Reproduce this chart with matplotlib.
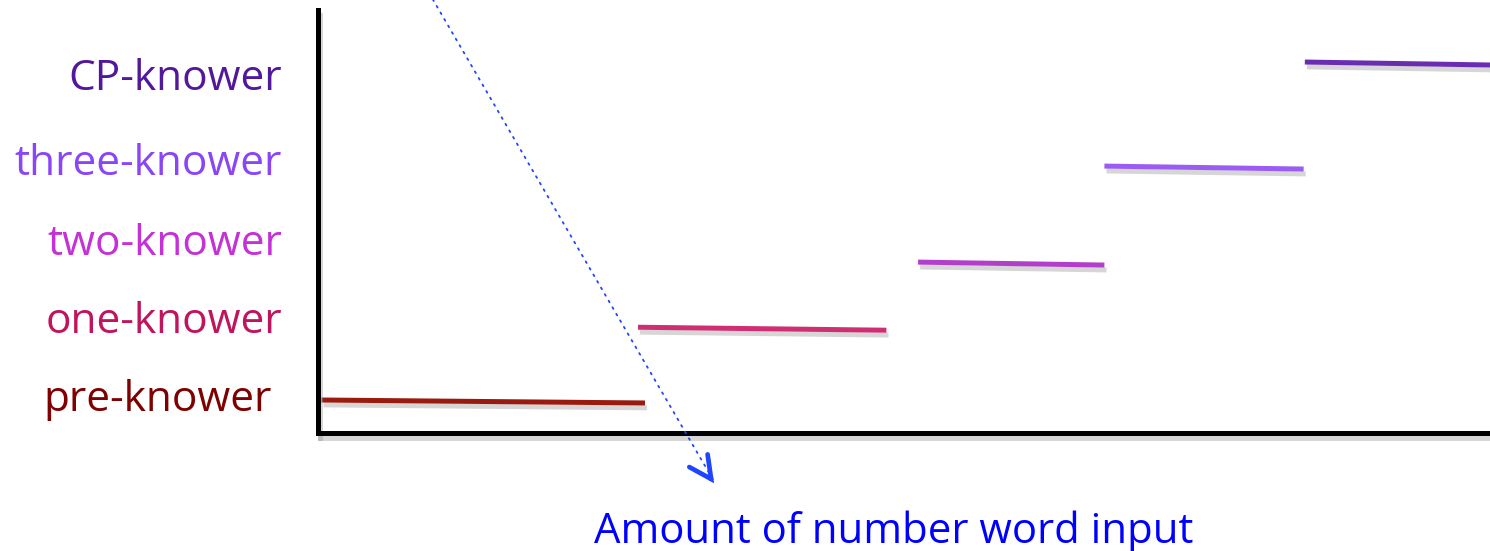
import matplotlib
matplotlib.use("Agg")
import matplotlib.pyplot as plt
import matplotlib.patheffects as pe

# Knower-level stages along the number-word-input axis
stages = ["pre-knower", "one-knower", "two-knower", "three-knower", "CP-knower"]
x_start = [0.3, 27.3, 51.2, 67.1, 84.2]
x_end = [27.9, 48.5, 67.1, 84.1, 100.0]
y_start = [0.78, 2.50, 4.04, 6.31, 8.77]
y_end = [0.71, 2.43, 3.97, 6.24, 8.70]
label_y = [0.52, 2.36, 4.20, 6.10, 8.11]
line_colors = ["#991a0e", "#cf2f72", "#b13fca", "#9a5cf2", "#6a2db2"]
text_colors = ["#7f0000", "#c0155c", "#c432d6", "#8a45f5", "#52189c"]
x_label = "Amount of number word input"

plt.rcParams["font.family"] = ["Open Sans", "DejaVu Sans"]

W, H = 1490, 551
fig = plt.figure(figsize=(W / 100, H / 100), dpi=100)
ax = fig.add_axes([318 / W, (H - 433) / H, 1172 / W, 423 / H])
ax.set_xlim(0, 100)
ax.set_ylim(0, 10)
ax.set_xticks([])
ax.set_yticks([])

shadow = [pe.SimpleLineShadow(offset=(1.5, -3.5), shadow_color="0.6", alpha=0.4),
          pe.Normal()]

for sp in ["top", "right"]:
    ax.spines[sp].set_visible(False)
for sp in ["left", "bottom"]:
    ax.spines[sp].set_linewidth(3.6)
    ax.spines[sp].set_color("black")
    ax.spines[sp].set_capstyle("projecting")
    ax.spines[sp].set_path_effects(shadow)

for xs, xe, ys, ye, c in zip(x_start, x_end, y_start, y_end, line_colors):
    ax.plot([xs, xe], [ys, ye], color=c, lw=3.6, solid_capstyle="butt",
            clip_on=False, path_effects=shadow)

for i, (name, ly, c) in enumerate(zip(stages, label_y, text_colors)):
    xr = -0.0392 if i == 0 else -0.0307
    ax.text(xr, ly, name, transform=ax.get_yaxis_transform(), ha="right",
            va="baseline", color=c, fontsize=30.5)

# dotted pointer from the top edge down toward the axis label
ax.annotate("", xy=(0.337, -0.11), xytext=(0.098, 1.025),
            xycoords="axes fraction", textcoords="axes fraction",
            arrowprops=dict(arrowstyle="-", color="#1f45ff", lw=1.3,
                            linestyle=(0, (1, 3.2)), shrinkA=0, shrinkB=0),
            annotation_clip=False)
ax.annotate("", xy=(0.3380, -0.119), xytext=(0.3345, -0.105),
            xycoords="axes fraction", textcoords="axes fraction",
            arrowprops=dict(arrowstyle="->,head_length=1.6,head_width=0.8",
                            color="#1f45ff", lw=3.4, shrinkA=0, shrinkB=0,
                            joinstyle="miter", capstyle="round"),
            annotation_clip=False)

fig.text(894 / W, (H - 543) / H, x_label, ha="center", va="baseline",
         color="#0000ff", fontsize=30.2)

fig.savefig("out.png", dpi=100)
